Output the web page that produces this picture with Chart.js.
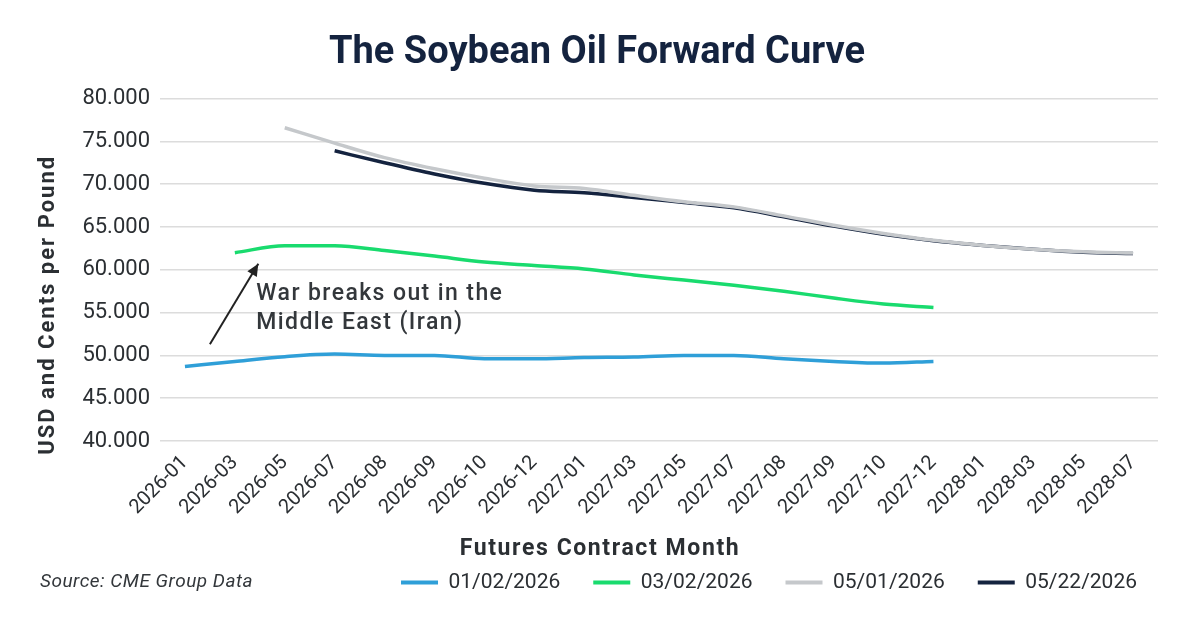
<!DOCTYPE html>
<html>
<head>
<meta charset="utf-8">
<script src="https://cdn.jsdelivr.net/npm/chart.js@4"></script>
<style>
  html, body { margin: 0; padding: 0; background: #fff; }
  #wrap { width: 1200px; height: 627px; position: relative; }
</style>
</head>
<body>
<div id="wrap"><canvas id="myChart"></canvas></div>
<script>
// Contract months on the x axis
const months = ['2026-01', '2026-03', '2026-05', '2026-07', '2026-08', '2026-09', '2026-10', '2026-12',
    '2027-01', '2027-03', '2027-05', '2027-07', '2027-08', '2027-09', '2027-10', '2027-12',
    '2028-01', '2028-03', '2028-05', '2028-07'];

// Curves by snapshot date (null = contract not listed on that date)
const curveJan02 = [48.7, 49.3, 49.85, 50.15, 50.0, 50.0, 49.6, 49.6,
    49.75, 49.8, 50.0, 50.0, 49.6, 49.3, 49.1, 49.3,
    null, null, null, null];
const curveMar02 = [null, 62.0, 62.8, 62.8, 62.25, 61.6, 60.9, 60.5,
    60.1, 59.4, 58.8, 58.2, 57.5, 56.7, 56.0, 55.6,
    null, null, null, null];
const curveMay01 = [null, null, 76.6, 74.8, 73.1, 71.8, 70.7, 69.8,
    69.5, 68.7, 67.95, 67.35, 66.3, 65.2, 64.25, 63.45,
    62.85, 62.4, 62.1, 61.95];
const curveMay22 = [null, null, null, 73.9, 72.5, 71.2, 70.1, 69.3,
    69.0, 68.45, 67.85, 67.25, 66.2, 65.1, 64.15, 63.4,
    62.85, 62.4, 62.05, 61.9];

const seriesNames = ['01/02/2026', '03/02/2026', '05/01/2026', '05/22/2026'];
const seriesColors = ['#2f9fd8', '#19db6e', '#c5c8cb', '#14233f'];

const yMin = 40;
const yMax = 80;

const baseFont = 'Roboto';
const textColor = '#2b2f33';

const makeSet = (i, values) => ({
    label: seriesNames[i],
    data: values,
    borderColor: seriesColors[i],
    backgroundColor: seriesColors[i],
    borderWidth: 3.5,
    pointRadius: 0,
    pointHoverRadius: 0,
    cubicInterpolationMode: 'monotone',
    fill: false
});

// Arrow + callout text, anchored on the scales
const annotationPlugin = {
    id: 'warNote',
    afterDatasetsDraw(chart) {
        const { ctx, scales: { x, y } } = chart;
        const x0 = x.getPixelForValue(0.5), y0 = y.getPixelForValue(51.3);
        const x1 = x.getPixelForValue(1.47), y1 = y.getPixelForValue(60.7);
        ctx.save();
        ctx.strokeStyle = '#222';
        ctx.fillStyle = '#222';
        ctx.lineWidth = 2;
        ctx.beginPath();
        ctx.moveTo(x0, y0);
        ctx.lineTo(x1, y1);
        ctx.stroke();
        const ang = Math.atan2(y1 - y0, x1 - x0);
        const len = 12, half = 5.5;
        ctx.beginPath();
        ctx.moveTo(x1, y1);
        ctx.lineTo(x1 - len * Math.cos(ang) + half * Math.sin(ang), y1 - len * Math.sin(ang) - half * Math.cos(ang));
        ctx.lineTo(x1 - len * Math.cos(ang) - half * Math.sin(ang), y1 - len * Math.sin(ang) + half * Math.cos(ang));
        ctx.closePath();
        ctx.fill();

        ctx.font = '500 23px "' + baseFont + '"';
        ctx.letterSpacing = '1.4px';
        ctx.fillStyle = '#33373b';
        ctx.textBaseline = 'middle';
        ctx.textAlign = 'left';
        const tx = x.getPixelForValue(1.43);
        ctx.fillText('War breaks out in the', tx, y.getPixelForValue(57.1));
        ctx.fillText('Middle East (Iran)', tx, y.getPixelForValue(53.7));
        ctx.restore();
    }
};

// Axis titles, source note, legend placement
const framePlugin = {
    id: 'frame',
    afterLayout(chart) {
        const lg = chart.legend;
        lg.right = chart.width - 30;
        lg.top -= 28;
        lg.bottom -= 28;
    },
    afterDraw(chart) {
        const { ctx, legend, chartArea, scales: { x } } = chart;
        ctx.save();
        ctx.fillStyle = textColor;
        ctx.textBaseline = 'middle';
        ctx.textAlign = 'center';
        ctx.font = 'bold 22px "' + baseFont + '"';
        ctx.letterSpacing = '2px';
        ctx.translate(48, (chartArea.top + chartArea.bottom) / 2 + 35);
        ctx.rotate(-Math.PI / 2);
        ctx.fillText('USD and Cents per Pound', 0, 0);
        ctx.restore();

        ctx.save();
        ctx.fillStyle = textColor;
        ctx.textBaseline = 'middle';
        ctx.textAlign = 'center';
        ctx.font = 'bold 23px "' + baseFont + '"';
        ctx.letterSpacing = '1.6px';
        ctx.fillText('Futures Contract Month', chart.width / 2, x.bottom - 18);
        ctx.restore();

        const box = legend.legendHitBoxes[0];
        ctx.save();
        ctx.font = 'italic 19px "' + baseFont + '"';
        ctx.letterSpacing = '0.5px';
        ctx.fillStyle = '#33373b';
        ctx.textBaseline = 'middle';
        ctx.textAlign = 'left';
        ctx.fillText('Source: CME Group Data', 40, box.top + box.height / 2);
        ctx.restore();
    }
};

const ctx = document.getElementById('myChart').getContext('2d');
new Chart(ctx, {
    type: 'line',
    data: {
        labels: months,
        datasets: [
            makeSet(0, curveJan02),
            makeSet(1, curveMar02),
            makeSet(2, curveMay01),
            makeSet(3, curveMay22)
        ]
    },
    options: {
        responsive: true,
        maintainAspectRatio: false,
        animation: false,
        layout: { padding: { left: 36, right: 42, top: 0, bottom: -4 } },
        plugins: {
            title: {
                display: true,
                text: 'The Soybean Oil Forward Curve',
                color: '#14233f',
                font: { family: 'Roboto', size: 38, weight: 'bold' },
                padding: { top: 31, bottom: 22 }
            },
            legend: {
                position: 'bottom',
                align: 'end',
                labels: {
                    color: textColor,
                    font: { family: baseFont, size: 21 },
                    boxWidth: 37,
                    boxHeight: 4,
                    padding: 33,
                    generateLabels(chart) {
                        return Chart.defaults.plugins.legend.labels.generateLabels(chart)
                            .map(l => Object.assign(l, { lineWidth: 0 }));
                    }
                }
            },
            tooltip: { enabled: false }
        },
        scales: {
            x: {
                offset: true,
                grid: { display: false },
                border: { display: false },
                ticks: {
                    color: textColor,
                    font: { family: baseFont, size: 20 },
                    minRotation: 45,
                    maxRotation: 45,
                    autoSkip: false,
                    padding: 2
                },
                afterFit(scale) { scale.height = 126; }
            },
            y: {
                min: yMin,
                max: yMax,
                grid: { color: '#dcdcdc', lineWidth: 1.5, drawTicks: false },
                border: { display: false },
                ticks: {
                    stepSize: 2.5,
                    color: textColor,
                    font: { family: baseFont, size: 22 },
                    padding: 10,
                    callback: v => (v % 5 === 0 ? v.toFixed(3) : '')
                },
                afterFit(scale) { scale.width = 124; }
            }
        }
    },
    plugins: [annotationPlugin, framePlugin]
});
</script>
</body>
</html>
